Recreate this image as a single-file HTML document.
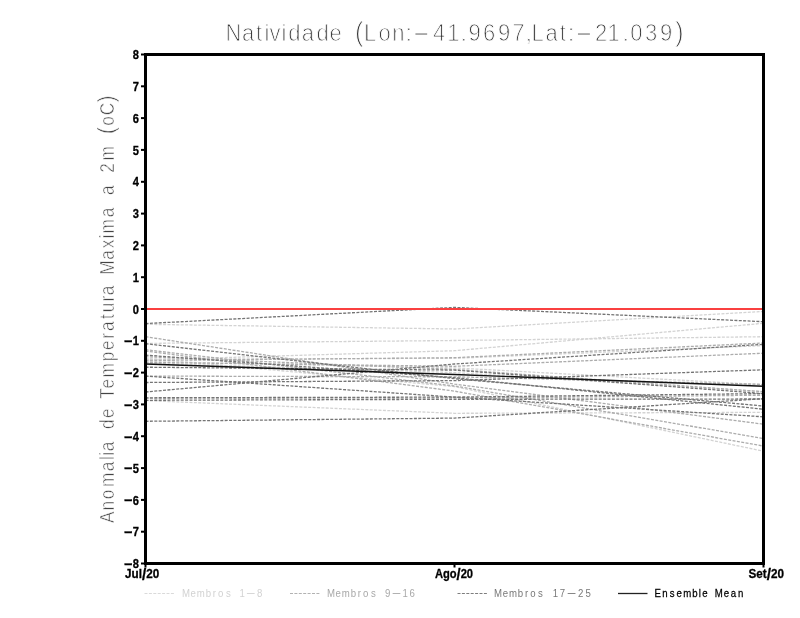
<!DOCTYPE html>
<html lang="pt"><head><meta charset="utf-8"><title>Natividade</title>
<style>
html,body{margin:0;padding:0;background:#fff;}
body{width:800px;height:618px;overflow:hidden;}
svg{display:block;will-change:transform;}
text{font-family:"Liberation Sans",sans-serif;}
.thin{paint-order:fill stroke;stroke:#fff;stroke-linejoin:round;}
.tick{font-weight:bold;font-size:12.8px;fill:#000;stroke:#000;stroke-width:0.3px;}
.xl{font-weight:bold;font-size:12.6px;fill:#000;stroke:#000;stroke-width:0.3px;}
.lg{font-size:11.2px;}
</style></head><body>
<svg width="800" height="618" viewBox="0 0 800 618">
<rect width="800" height="618" fill="#fff"/>
<text class="thin" transform="scale(0.9 1)" x="250.59 268.94 284.45 294.01 299.32 312.73 320.18 335.17 351.57 366.16 379.78 394.45 404.53 420.52 435.95 450.76 457.50 481.04 496.91 511.82 520.47 536.60 553.25 569.18 584.26 590.48 606.06 621.89 631.21 638.02 661.13 675.13 692.04 700.30 716.76 733.25 750.39" y="41.50 41.50 41.50 41.50 41.50 41.50 41.50 41.50 41.50 41.50 41.50 41.50 41.50 41.50 41.50 41.50 39.60 41.50 41.50 41.50 41.50 41.50 41.50 41.50 41.50 41.50 41.50 41.50 41.50 39.60 41.50 41.50 41.50 41.50 41.50 41.50 41.50" font-size="24.5" fill="#3c3c3c" stroke-width="0.95">Natividade <tspan font-size="27.7">(</tspan>Lon:<tspan textLength="21.22" lengthAdjust="spacingAndGlyphs">-</tspan>41.9697,Lat:<tspan textLength="21.52" lengthAdjust="spacingAndGlyphs">-</tspan>21.039<tspan font-size="27.7">)</tspan></text>
<text class="thin" transform="translate(113.5 0) rotate(-90) scale(0.86 1)" x="-608.01 -593.66 -580.45 -566.42 -547.90 -534.96 -530.01 -524.77 -513.64 -498.77 -486.01 -474.88 -463.78 -451.82 -439.03 -420.20 -407.05 -393.83 -384.77 -370.82 -363.11 -350.57 -343.37 -332.25 -319.38 -301.97 -288.67 -277.39 -271.53 -252.56 -241.43 -226.74 -215.62 -200.91 -186.65 -169.99 -155.89 -146.20 -134.03 -118.82" y="0.00 0.00 0.00 0.00 0.00 0.00 0.00 0.00 0.00 0.00 0.00 0.00 0.00 0.00 0.00 0.00 0.00 0.00 0.00 0.00 0.00 0.00 0.00 0.00 0.00 0.00 0.00 0.00 0.00 0.00 0.00 0.00 0.00 0.00 0.00 0.00 0.00 0.00 0.00 0.00" font-size="20" fill="#444" stroke-width="0.6">Anomalia de Temperatura Maxima a 2m <tspan font-size="23.4">(</tspan>oC<tspan font-size="23.4">)</tspan></text>
<g>
<polyline points="145.5,324.3 454.5,329.0 763.5,311.5" fill="none" stroke="#d3d3d3" stroke-width="1.3" stroke-dasharray="3 1.4"/>
<polyline points="145.5,343.4 454.5,340.5 763.5,336.7" fill="none" stroke="#d3d3d3" stroke-width="1.3" stroke-dasharray="3 1.4"/>
<polyline points="145.5,359.9 454.5,350.7 763.5,323.3" fill="none" stroke="#d3d3d3" stroke-width="1.3" stroke-dasharray="3 1.4"/>
<polyline points="145.5,361.5 454.5,367.9 763.5,384.7" fill="none" stroke="#d3d3d3" stroke-width="1.3" stroke-dasharray="3 1.4"/>
<polyline points="145.5,363.1 454.5,372.6 763.5,391.7" fill="none" stroke="#d3d3d3" stroke-width="1.3" stroke-dasharray="3 1.4"/>
<polyline points="145.5,400.6 454.5,413.3 763.5,412.4" fill="none" stroke="#d3d3d3" stroke-width="1.3" stroke-dasharray="3 1.4"/>
<polyline points="145.5,358.3 454.5,386.6 763.5,451.2" fill="none" stroke="#d3d3d3" stroke-width="1.3" stroke-dasharray="3 1.4"/>
<polyline points="145.5,359.3 454.5,358.3 763.5,345.6" fill="none" stroke="#d3d3d3" stroke-width="1.3" stroke-dasharray="3 1.4"/>
<polyline points="145.5,336.7 454.5,384.1 763.5,424.2" fill="none" stroke="#acacac" stroke-width="1.3" stroke-dasharray="3 1.4"/>
<polyline points="145.5,349.7 454.5,386.0 763.5,438.5" fill="none" stroke="#acacac" stroke-width="1.3" stroke-dasharray="3 1.4"/>
<polyline points="145.5,351.0 454.5,391.1 763.5,446.1" fill="none" stroke="#acacac" stroke-width="1.3" stroke-dasharray="3 1.4"/>
<polyline points="145.5,356.7 454.5,369.4 763.5,391.7" fill="none" stroke="#acacac" stroke-width="1.3" stroke-dasharray="3 1.4"/>
<polyline points="145.5,376.1 454.5,376.8 763.5,384.4" fill="none" stroke="#acacac" stroke-width="1.3" stroke-dasharray="3 1.4"/>
<polyline points="145.5,398.1 454.5,398.1 763.5,395.2" fill="none" stroke="#acacac" stroke-width="1.3" stroke-dasharray="3 1.4"/>
<polyline points="145.5,360.5 454.5,357.7 763.5,343.0" fill="none" stroke="#acacac" stroke-width="1.3" stroke-dasharray="3 1.4"/>
<polyline points="145.5,362.4 454.5,366.3 763.5,353.2" fill="none" stroke="#acacac" stroke-width="1.3" stroke-dasharray="3 1.4"/>
<polyline points="145.5,323.6 454.5,307.4 763.5,321.7" fill="none" stroke="#747474" stroke-width="1.3" stroke-dasharray="3 1.4"/>
<polyline points="145.5,343.7 454.5,378.7 763.5,406.0" fill="none" stroke="#747474" stroke-width="1.3" stroke-dasharray="3 1.4"/>
<polyline points="145.5,355.1 454.5,377.7 763.5,409.2" fill="none" stroke="#747474" stroke-width="1.3" stroke-dasharray="3 1.4"/>
<polyline points="145.5,367.2 454.5,370.1 763.5,393.6" fill="none" stroke="#747474" stroke-width="1.3" stroke-dasharray="3 1.4"/>
<polyline points="145.5,376.1 454.5,397.1 763.5,416.8" fill="none" stroke="#747474" stroke-width="1.3" stroke-dasharray="3 1.4"/>
<polyline points="145.5,382.5 454.5,380.6 763.5,369.8" fill="none" stroke="#747474" stroke-width="1.3" stroke-dasharray="3 1.4"/>
<polyline points="145.5,392.0 454.5,364.0 763.5,344.3" fill="none" stroke="#747474" stroke-width="1.3" stroke-dasharray="3 1.4"/>
<polyline points="145.5,397.8 454.5,397.1 763.5,393.6" fill="none" stroke="#747474" stroke-width="1.3" stroke-dasharray="3 1.4"/>
<polyline points="145.5,421.3 454.5,418.1 763.5,398.7" fill="none" stroke="#747474" stroke-width="1.3" stroke-dasharray="3 1.4"/>
<polyline points="145.5,400.3 454.5,399.3 763.5,399.0" fill="none" stroke="#747474" stroke-width="1.3" stroke-dasharray="3 1.4"/>
</g>
<line x1="145.5" y1="309" x2="763.5" y2="309" stroke="#fa4040" stroke-width="2.1"/>
<polyline points="145.5,364.0 454.5,374.5 763.5,386.3" fill="none" stroke="#111" stroke-width="1.45"/>
<rect x="145.5" y="54.5" width="618.0" height="509.0" fill="none" stroke="#000" stroke-width="3"/>
<line x1="141" y1="563.5" x2="145" y2="563.5" stroke="#000" stroke-width="2"/>
<text class="tick" transform="translate(138.9 568.1) scale(0.87 1)" x="0" y="0" text-anchor="end"><tspan textLength="10.4" lengthAdjust="spacingAndGlyphs" dy="-0.3">-</tspan><tspan dx="-0.2" dy="0.3">8</tspan></text>
<line x1="141" y1="531.7" x2="145" y2="531.7" stroke="#000" stroke-width="2"/>
<text class="tick" transform="translate(138.9 536.3) scale(0.87 1)" x="0" y="0" text-anchor="end"><tspan textLength="10.4" lengthAdjust="spacingAndGlyphs" dy="-0.3">-</tspan><tspan dx="-0.2" dy="0.3">7</tspan></text>
<line x1="141" y1="499.9" x2="145" y2="499.9" stroke="#000" stroke-width="2"/>
<text class="tick" transform="translate(138.9 504.5) scale(0.87 1)" x="0" y="0" text-anchor="end"><tspan textLength="10.4" lengthAdjust="spacingAndGlyphs" dy="-0.3">-</tspan><tspan dx="-0.2" dy="0.3">6</tspan></text>
<line x1="141" y1="468.1" x2="145" y2="468.1" stroke="#000" stroke-width="2"/>
<text class="tick" transform="translate(138.9 472.7) scale(0.87 1)" x="0" y="0" text-anchor="end"><tspan textLength="10.4" lengthAdjust="spacingAndGlyphs" dy="-0.3">-</tspan><tspan dx="-0.2" dy="0.3">5</tspan></text>
<line x1="141" y1="436.2" x2="145" y2="436.2" stroke="#000" stroke-width="2"/>
<text class="tick" transform="translate(138.9 440.9) scale(0.87 1)" x="0" y="0" text-anchor="end"><tspan textLength="10.4" lengthAdjust="spacingAndGlyphs" dy="-0.3">-</tspan><tspan dx="-0.2" dy="0.3">4</tspan></text>
<line x1="141" y1="404.4" x2="145" y2="404.4" stroke="#000" stroke-width="2"/>
<text class="tick" transform="translate(138.9 409.0) scale(0.87 1)" x="0" y="0" text-anchor="end"><tspan textLength="10.4" lengthAdjust="spacingAndGlyphs" dy="-0.3">-</tspan><tspan dx="-0.2" dy="0.3">3</tspan></text>
<line x1="141" y1="372.6" x2="145" y2="372.6" stroke="#000" stroke-width="2"/>
<text class="tick" transform="translate(138.9 377.2) scale(0.87 1)" x="0" y="0" text-anchor="end"><tspan textLength="10.4" lengthAdjust="spacingAndGlyphs" dy="-0.3">-</tspan><tspan dx="-0.2" dy="0.3">2</tspan></text>
<line x1="141" y1="340.8" x2="145" y2="340.8" stroke="#000" stroke-width="2"/>
<text class="tick" transform="translate(138.9 345.4) scale(0.87 1)" x="0" y="0" text-anchor="end"><tspan textLength="10.4" lengthAdjust="spacingAndGlyphs" dy="-0.3">-</tspan><tspan dx="-0.2" dy="0.3">1</tspan></text>
<line x1="141" y1="309.0" x2="145" y2="309.0" stroke="#000" stroke-width="2"/>
<text class="tick" transform="translate(138.9 313.6) scale(0.87 1)" x="0" y="0" text-anchor="end"><tspan>0</tspan></text>
<line x1="141" y1="277.2" x2="145" y2="277.2" stroke="#000" stroke-width="2"/>
<text class="tick" transform="translate(138.9 281.8) scale(0.87 1)" x="0" y="0" text-anchor="end"><tspan>1</tspan></text>
<line x1="141" y1="245.4" x2="145" y2="245.4" stroke="#000" stroke-width="2"/>
<text class="tick" transform="translate(138.9 250.0) scale(0.87 1)" x="0" y="0" text-anchor="end"><tspan>2</tspan></text>
<line x1="141" y1="213.6" x2="145" y2="213.6" stroke="#000" stroke-width="2"/>
<text class="tick" transform="translate(138.9 218.2) scale(0.87 1)" x="0" y="0" text-anchor="end"><tspan>3</tspan></text>
<line x1="141" y1="181.8" x2="145" y2="181.8" stroke="#000" stroke-width="2"/>
<text class="tick" transform="translate(138.9 186.3) scale(0.87 1)" x="0" y="0" text-anchor="end"><tspan>4</tspan></text>
<line x1="141" y1="149.9" x2="145" y2="149.9" stroke="#000" stroke-width="2"/>
<text class="tick" transform="translate(138.9 154.5) scale(0.87 1)" x="0" y="0" text-anchor="end"><tspan>5</tspan></text>
<line x1="141" y1="118.1" x2="145" y2="118.1" stroke="#000" stroke-width="2"/>
<text class="tick" transform="translate(138.9 122.7) scale(0.87 1)" x="0" y="0" text-anchor="end"><tspan>6</tspan></text>
<line x1="141" y1="86.3" x2="145" y2="86.3" stroke="#000" stroke-width="2"/>
<text class="tick" transform="translate(138.9 90.9) scale(0.87 1)" x="0" y="0" text-anchor="end"><tspan>7</tspan></text>
<line x1="141" y1="54.5" x2="145" y2="54.5" stroke="#000" stroke-width="2"/>
<text class="tick" transform="translate(138.9 59.1) scale(0.87 1)" x="0" y="0" text-anchor="end"><tspan>8</tspan></text>
<line x1="145.5" y1="564" x2="145.5" y2="567.5" stroke="#000" stroke-width="2"/>
<line x1="454.5" y1="564" x2="454.5" y2="567.5" stroke="#000" stroke-width="2"/>
<line x1="763.5" y1="564" x2="763.5" y2="567.5" stroke="#000" stroke-width="2"/>
<text class="xl" transform="translate(142.2 0) scale(0.93 1)" x="0" y="577.8" text-anchor="middle">Jul<tspan font-size="16.5" dy="1.8">/</tspan><tspan dy="-1.8">20</tspan></text>
<text class="xl" transform="translate(454.0 0) scale(0.885 1)" x="0" y="577.8" text-anchor="middle">Ago<tspan font-size="16.5" dy="1.8">/</tspan><tspan dy="-1.8">20</tspan></text>
<text class="xl" transform="translate(766.2 0) scale(0.93 1)" x="0" y="577.8" text-anchor="middle">Set<tspan font-size="16.5" dy="1.8">/</tspan><tspan dy="-1.8">20</tspan></text>
<line x1="144.5" y1="593.5" x2="174.0" y2="593.5" stroke="#dadada" stroke-width="1.0" stroke-dasharray="3 1.4"/>
<text class="lg" transform="scale(0.86 1)" x="211.50 221.49 228.88 239.14 247.33 253.57 262.71 268.31 278.53 285.35 298.98" y="597.00 597.00 597.00 597.00 597.00 597.00 597.00 597.00 597.00 596.00 597.00" fill="#d2d2d2">Membros 1<tspan textLength="12.21" lengthAdjust="spacingAndGlyphs">-</tspan>8</text>
<line x1="290.0" y1="593.5" x2="320.0" y2="593.5" stroke="#b2b2b2" stroke-width="1.0" stroke-dasharray="3 1.4"/>
<text class="lg" transform="scale(0.86 1)" x="380.10 390.09 397.48 407.75 415.94 422.18 431.32 436.92 447.70 455.11 468.13 476.27" y="597.00 597.00 597.00 597.00 597.00 597.00 597.00 597.00 597.00 596.00 597.00 597.00" fill="#a8a8a8">Membros 9<tspan textLength="12.21" lengthAdjust="spacingAndGlyphs">-</tspan>16</text>
<line x1="457.5" y1="593.5" x2="487.0" y2="593.5" stroke="#7e7e7e" stroke-width="1.0" stroke-dasharray="3 1.4"/>
<text class="lg" transform="scale(0.86 1)" x="574.52 584.51 591.90 602.17 610.36 616.59 625.73 631.33 642.84 650.95 658.58 672.06 680.68" y="597.00 597.00 597.00 597.00 597.00 597.00 597.00 597.00 597.00 597.00 596.00 597.00 597.00" fill="#787878">Membros 17<tspan textLength="12.37" lengthAdjust="spacingAndGlyphs">-</tspan>25</text>
<line x1="618.0" y1="593.5" x2="647.5" y2="593.5" stroke="#222" stroke-width="1.3"/>
<text class="lg" transform="scale(0.86 1)" x="760.93 770.13 778.87 786.66 794.40 805.07 812.65 816.55 822.78 831.09 841.55 849.73 858.04" y="597.00 597.00 597.00 597.00 597.00 597.00 597.00 597.00 597.00 597.00 597.00 597.00 597.00" fill="#000" stroke="#000" stroke-width="0.25">Ensemble Mean</text>
</svg></body></html>
